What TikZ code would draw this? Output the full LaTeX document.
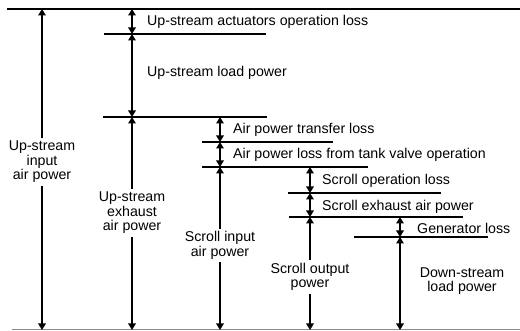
\documentclass[tikz,border=0pt]{standalone}
\usepackage{fontspec}
\setmainfont{Liberation Sans}
\usetikzlibrary{arrows.meta}
\begin{document}
\begin{tikzpicture}[x=1pt,y=-1pt,
  level/.style={line width=1.8pt},
  base/.style={line width=1pt, draw=black!45},
  tipd/.style={line width=1.5pt, {Triangle[length=6.5pt,width=7.5pt]}-{Triangle[length=6.5pt,width=7.5pt]}},
  tipe/.style={line width=1.5pt, -{Triangle[length=6.5pt,width=7.5pt]}},
  lbl/.style={font=\fontsize{14.2}{14.5}\selectfont, inner sep=0pt},
  split/.style={lbl, align=center, inner ysep=2.5pt}]
\useasboundingbox (0,0) rectangle (520,331);
% levels
\draw[level] (7,9) -- (520,9);
\draw[level] (104,34) -- (266,34);
\draw[level] (103,117) -- (267,117);
\draw[level] (202,142) -- (333,142);
\draw[level] (202,167) -- (368,167);
\draw[level] (288,193) -- (441,193);
\draw[level] (289,217) -- (463,217);
\draw[level] (354,237) -- (488,237);
\draw[base] (12,330) -- (520,330);
% coordinates of arrow ends
\coordinate (a0) at (42,9);    \coordinate (aB) at (42,330);
\coordinate (b0) at (132,9);   \coordinate (b1) at (132,34);
\coordinate (b2) at (132,117); \coordinate (bB) at (132,330);
\coordinate (c2) at (220,117); \coordinate (c3) at (220,142);
\coordinate (c4) at (220,167); \coordinate (cB) at (220,330);
\coordinate (d4) at (310,167); \coordinate (d5) at (310,193);
\coordinate (d6) at (310,217); \coordinate (dB) at (310,330);
\coordinate (e6) at (400,217); \coordinate (e7) at (400,237);
\coordinate (eB) at (400,330);
% split labels
\node[split] (inp) at (42,162) {Up-stream\\input\\air power};
\node[split] (exh) at (132,213) {Up-stream\\exhaust\\air power};
\node[split] (sin) at (220,245.5) {Scroll input\\air power};
\node[split] (sout) at (310,277) {Scroll output\\power};
\node[split] (dsl) at (462,281) {Down-stream\\load power};
% side labels
\node[lbl, anchor=west] (l1) at (147,22) {Up-stream actuators operation loss};
\node[lbl, anchor=west] (l2) at (147,73) {Up-stream load power};
\node[lbl, anchor=west] (l3) at (233,130) {Air power transfer loss};
\node[lbl, anchor=west] (l4) at (233,155) {Air power loss from tank valve operation};
\node[lbl, anchor=west] (l5) at (322,181) {Scroll operation loss};
\node[lbl, anchor=west] (l6) at (322,207) {Scroll exhaust air power};
\node[lbl, anchor=west] (l7) at (417,228) {Generator loss};
% arrows
\draw[tipe] (inp.north) -- (a0);
\draw[tipe] (inp.south) -- (aB);
\draw[tipd] (b0) -- (b1);
\draw[tipd] (b1) -- (b2);
\draw[tipe] (exh.north) -- (b2);
\draw[tipe] (exh.south) -- (bB);
\draw[tipd] (c2) -- (c3);
\draw[tipd] (c3) -- (c4);
\draw[tipe] (sin.north) -- (c4);
\draw[tipe] (sin.south) -- (cB);
\draw[tipd] (d4) -- (d5);
\draw[tipd] (d5) -- (d6);
\draw[tipe] (sout.north) -- (d6);
\draw[tipe] (sout.south) -- (dB);
\draw[tipd] (e6) -- (e7);
\draw[tipd] (e7) -- (eB);
\end{tikzpicture}
\end{document}
